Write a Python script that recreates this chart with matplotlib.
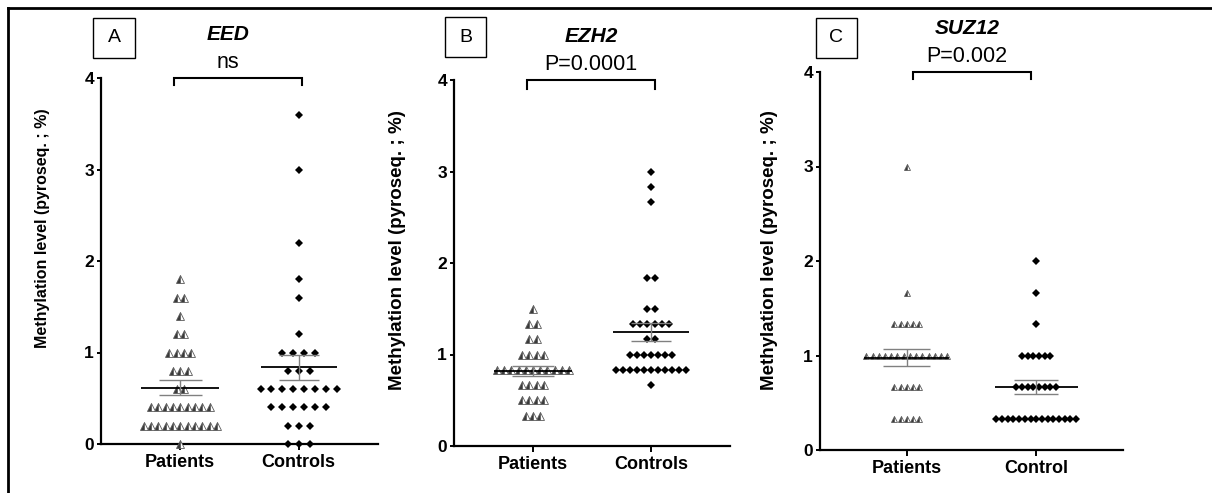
import numpy as np
import matplotlib
matplotlib.use("Agg")
import matplotlib.pyplot as plt
from matplotlib.lines import Line2D
from matplotlib.patches import Rectangle

plt.rcParams['font.family'] = ['Liberation Sans', 'DejaVu Sans']

# values: level -> number of points on that level
eed_pat_levels = [0.0, 0.2, 0.4, 0.6, 0.8, 1.0, 1.2, 1.4, 1.6, 1.8]
eed_pat_counts = [1, 11, 9, 2, 3, 4, 2, 1, 2, 1]
eed_ctl_levels = [0.0, 0.2, 0.4, 0.6, 0.8, 1.0, 1.2, 1.6, 1.8, 2.2, 3.0, 3.6]
eed_ctl_counts = [3, 3, 6, 8, 3, 4, 1, 1, 1, 1, 1, 1]

ezh2_pat_levels = [1/3, 1/2, 2/3, 5/6, 1.0, 7/6, 4/3, 1.5]
ezh2_pat_counts = [3, 4, 4, 11, 4, 2, 2, 1]
ezh2_ctl_levels = [2/3, 5/6, 1.0, 7/6, 4/3, 1.5, 11/6, 8/3, 17/6, 3.0]
ezh2_ctl_counts = [1, 11, 7, 2, 6, 2, 2, 1, 1, 1]

suz12_pat_levels = [1/3, 2/3, 1.0, 4/3, 5/3, 3.0]
suz12_pat_counts = [5, 5, 14, 5, 1, 1]
suz12_ctl_levels = [1/3, 2/3, 1.0, 4/3, 5/3, 2.0]
suz12_ctl_counts = [15, 8, 6, 1, 1, 1]

genes = ["EED", "EZH2", "SUZ12"]
panel_letters = ["A", "B", "C"]
p_labels = ["ns", "P=0.0001", "P=0.002"]
group_labels = [["Patients", "Controls"], ["Patients", "Controls"], ["Patients", "Control"]]
y_ticks = [0, 1, 2, 3, 4]
ylab = "Methylation level (pyroseq. ; %)"

W, H = 1212, 493
fig = plt.figure(figsize=(W / 100, H / 100), dpi=100)


def fx(x):
    return x / W


def fy(y):
    return 1 - y / H


tri_style = dict(marker='^', ms=5.5, fillstyle='left', markerfacecolor='#3a3a3a',
                 markerfacecoloralt='white', markeredgecolor='#5a5a5a', mew=0.6)
dia_style = dict(marker='D', ms=4.2, color='black', mew=0)


def swarm(ax, xc, levels, counts, step, style):
    for lev, n in zip(levels, counts):
        xs = xc + (np.arange(n) - (n - 1) / 2) * step
        ax.plot(xs, np.full(n, lev), linestyle='none', clip_on=False, zorder=3, **style)


def mean_sem(ax, xc, levels, counts, mw, cw):
    vals = np.repeat(levels, counts)
    m = vals.mean()
    s = vals.std(ddof=1) / np.sqrt(len(vals))
    ax.hlines(m, xc - mw, xc + mw, color='black', lw=1.3, zorder=4)
    ax.hlines([m - s, m + s], xc - cw, xc + cw, color='#808080', lw=1.0, zorder=4)
    ax.vlines(xc, m - s, m + s, color='#808080', lw=1.0, zorder=4)


panels = [
    dict(box=(101, 78, 378, 444), pat=(eed_pat_levels, eed_pat_counts), ctl=(eed_ctl_levels, eed_ctl_counts),
         steps=(0.062, 0.092), ms=(5.5, 4.2), bracket=(-0.05, 1.03, 3.92),
         title_xy=(228, 35, 63), lbox=(93, 18, 135, 58), ylab_xy=(43, 228, 11.5)),
    dict(box=(454, 80, 730, 446), pat=(ezh2_pat_levels, ezh2_pat_counts), ctl=(ezh2_ctl_levels, ezh2_ctl_counts),
         steps=(0.061, 0.060), ms=(5.5, 4.2), bracket=(-0.05, 1.03, 3.9),
         title_xy=(591, 37, 64), lbox=(445, 17, 486, 57), ylab_xy=(397, 250, 13.5)),
    dict(box=(820, 72, 1123, 450), pat=(suz12_pat_levels, suz12_pat_counts), ctl=(suz12_ctl_levels, suz12_ctl_counts),
         steps=(0.048, 0.044), ms=(5.0, 3.8), bracket=(0.05, 0.96, 3.93),
         title_xy=(967, 29, 57), lbox=(816, 18, 857, 58), ylab_xy=(770, 250, 13.5)),
]

for i, p in enumerate(panels):
    x0, y0, x1, y1 = p['box']
    ax = fig.add_axes([fx(x0), fy(y1), fx(x1) - fx(x0), fy(y0) - fy(y1)])
    ax.set_xlim(-0.67, 1.67)
    ax.set_ylim(0, 4)
    for side in ['top', 'right']:
        ax.spines[side].set_visible(False)
    for side in ['left', 'bottom']:
        ax.spines[side].set_linewidth(1.6)
    ax.set_yticks(y_ticks)
    ax.set_xticks([0, 1])
    ax.set_xticklabels(group_labels[i])
    ax.tick_params(axis='y', length=3, width=1.4, labelsize=12.5, pad=2)
    ax.tick_params(axis='x', length=4, width=1.4, labelsize=13, pad=3)
    plt.setp(ax.get_xticklabels(), fontweight='bold')
    plt.setp(ax.get_yticklabels(), fontweight='bold')

    t_style = dict(tri_style, ms=p['ms'][0])
    d_style = dict(dia_style, ms=p['ms'][1])
    swarm(ax, 0, *p['pat'], p['steps'][0], t_style)
    swarm(ax, 1, *p['ctl'], p['steps'][1], d_style)
    mean_sem(ax, 0, *p['pat'], 0.33, 0.18)
    mean_sem(ax, 1, *p['ctl'], 0.32, 0.17)

    # significance bracket
    bx0, bx1, bdrop = p['bracket']
    ax.plot([bx0, bx0, bx1, bx1], [bdrop, 4.0, 4.0, bdrop], color='black', lw=1.5,
            clip_on=False, solid_joinstyle='miter')

    tx, ty, py = p['title_xy']
    fig.text(fx(tx), fy(ty), genes[i], ha='center', va='center', fontsize=15,
             fontweight='bold', fontstyle='italic')
    fig.text(fx(tx), fy(py), p_labels[i], ha='center', va='center', fontsize=15.5)

    lx0, ly0, lx1, ly1 = p['lbox']
    fig.add_artist(Rectangle((fx(lx0), fy(ly1)), fx(lx1) - fx(lx0), fy(ly0) - fy(ly1),
                             transform=fig.transFigure, fill=False, lw=1.0, ec='black'))
    fig.text(fx((lx0 + lx1) / 2), fy((ly0 + ly1) / 2), panel_letters[i], ha='center',
             va='center', fontsize=14)

    yx, yy, ysz = p['ylab_xy']
    fig.text(fx(yx), fy(yy), ylab, rotation=90, ha='center', va='center',
             fontsize=ysz, fontweight='bold')

# outer frame (only top and left edges show)
fig.add_artist(Line2D([fx(8), 1], [fy(8), fy(8)], transform=fig.transFigure, color='black', lw=2))
fig.add_artist(Line2D([fx(8), fx(8)], [fy(8), 0], transform=fig.transFigure, color='black', lw=2))

fig.savefig("out.png", dpi=100)
